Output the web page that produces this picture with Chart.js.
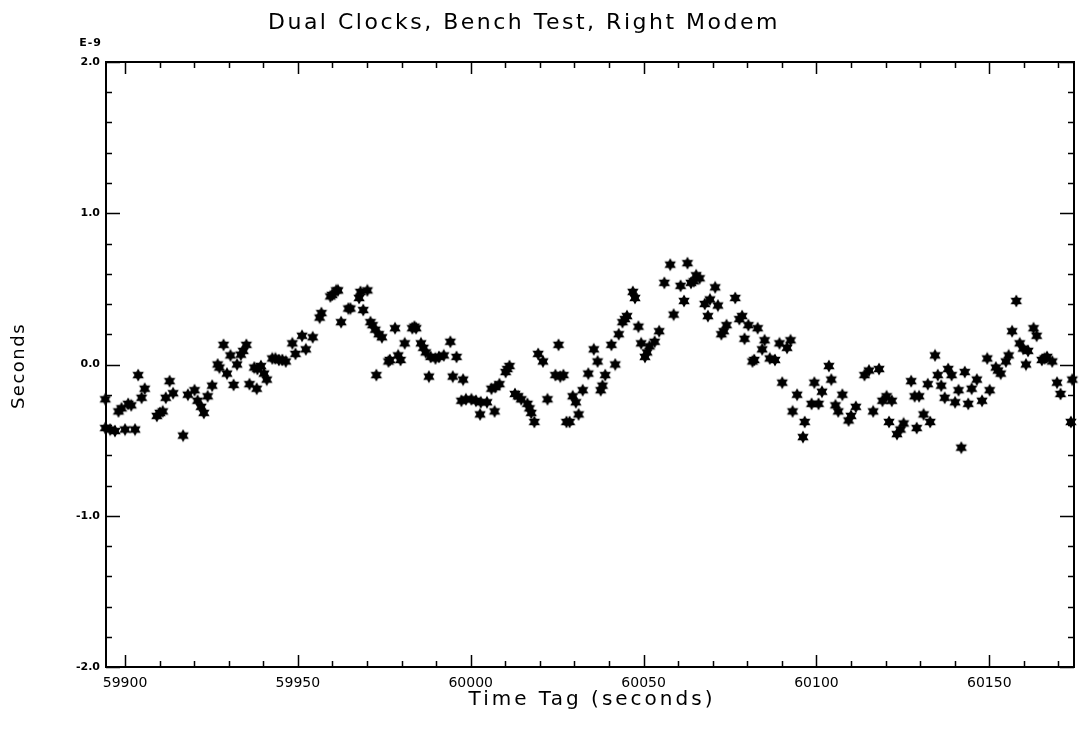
<!DOCTYPE html>
<html>
<head>
<meta charset="utf-8">
<script src="https://cdn.jsdelivr.net/npm/chart.js@4/dist/chart.umd.min.js"></script>
<style>
  body { margin: 0; background: #fff; }
  canvas { display: block; }
</style>
</head>
<body>
<canvas id="clockChart" width="1082" height="737"></canvas>
<script>
// time tags (seconds) and clock offsets (units of 1e-9 s)
timeTags = [
  59894.3,59894.3,59895.7,59897.1,59900.0,59902.9,59898.1,59899.0,59900.9,59901.8,
  59903.8,59905.7,59904.8,59909.2,59910.1,59910.9,59916.8,59912.9,59913.9,59911.8,
  59918.2,59920.1,59921.0,59922.0,59922.8,59923.9,59925.2,59926.8,59927.3,59928.5,
  59929.5,59930.5,59931.4,59932.4,59933.5,59934.2,59935.1,59936.0,59938.1,59937.4,
  59938.3,59939.3,59940.2,59941.0,59942.6,59943.5,59944.5,59945.5,59946.5,59948.4,
  59949.3,59951.2,59952.3,59954.3,59956.3,59956.8,59959.4,59959.9,59961.1,59961.6,
  59962.5,59964.6,59965.2,59967.7,59968.1,59970.1,59968.9,59971.0,59971.6,59972.4,
  59973.4,59974.3,59978.1,59972.7,59976.2,59976.6,59979.0,59979.7,59980.9,59983.1,
  59983.7,59984.2,59985.6,59986.3,59987.0,59988.4,59989.8,59990.8,59992.2,59994.1,
  59995.9,59987.9,59994.8,59997.8,59997.3,59998.6,60000.2,60001.5,60002.9,60004.7,
  60002.7,60006.9,60006.0,60007.1,60008.3,60010.1,60010.6,60011.2,60012.8,60013.7,
  60014.6,60016.4,60017.0,60017.5,60018.4,60019.5,60020.9,60022.2,60025.4,60024.5,
  60026.8,60025.9,60027.7,60029.5,60030.4,60028.6,60031.2,60032.4,60034.0,60035.6,
  60036.7,60037.6,60038.1,60038.9,60040.7,60041.8,60042.8,60043.9,60044.6,60045.2,
  60046.9,60047.5,60048.5,60049.3,60050.4,60051.0,60051.7,60053.2,60054.5,60056.0,
  60057.7,60058.7,60060.7,60061.7,60062.7,60063.7,60064.5,60065.2,60066.2,60067.7,
  60069.2,60070.7,60071.5,60068.6,60072.5,60073.2,60074.0,60076.5,60077.7,60078.5,
  60080.3,60079.2,60083.0,60085.0,60084.3,60081.5,60082.0,60086.5,60088.0,60089.3,
  60091.5,60092.5,60090.1,60094.4,60093.1,60096.6,60096.1,60099.4,60101.6,60098.6,
  60100.6,60103.6,60104.3,60105.5,60106.3,60107.5,60109.3,60110.0,60111.4,60113.9,
  60115.2,60116.4,60118.1,60119.1,60120.3,60121.8,60121.0,60123.3,60124.3,60125.2,
  60129.0,60127.4,60128.4,60129.7,60131.0,60132.9,60132.2,60134.3,60135.1,60136.1,
  60137.1,60138.1,60139.1,60140.1,60141.1,60141.9,60142.9,60143.9,60144.9,60146.4,
  60147.9,60149.4,60150.1,60151.9,60152.5,60153.3,60154.8,60155.6,60156.6,60157.8,
  60158.8,60159.8,60161.2,60160.6,60162.8,60163.7,60165.2,60166.0,60166.7,60168.2,
  60169.6,60170.6,60173.6,60174.0
]
offsets = [
  -0.23,-0.42,-0.43,-0.44,-0.43,-0.43,-0.31,-0.29,-0.26,-0.27,
  -0.07,-0.16,-0.22,-0.34,-0.32,-0.31,-0.47,-0.11,-0.19,-0.22,
  -0.20,-0.17,-0.24,-0.28,-0.32,-0.21,-0.14,0.00,-0.02,0.13,
  -0.06,0.06,-0.135,0.00,0.065,0.09,0.13,-0.13,-0.16,-0.02,
  -0.03,-0.01,-0.06,-0.10,0.04,0.04,0.03,0.03,0.02,0.14,
  0.07,0.19,0.10,0.18,0.31,0.34,0.45,0.46,0.49,0.49,
  0.28,0.37,0.37,0.44,0.48,0.49,0.36,0.28,0.26,0.23,
  0.20,0.18,0.24,-0.07,0.02,0.03,0.06,0.03,0.14,0.24,
  0.25,0.24,0.14,0.11,0.08,0.05,0.04,0.05,0.06,0.15,
  0.05,-0.08,-0.08,-0.10,-0.24,-0.23,-0.23,-0.24,-0.25,-0.25,
  -0.33,-0.31,-0.16,-0.15,-0.13,-0.05,-0.03,-0.01,-0.195,-0.21,
  -0.23,-0.26,-0.29,-0.32,-0.38,0.07,0.02,-0.23,0.13,-0.07,
  -0.07,-0.08,-0.38,-0.21,-0.25,-0.38,-0.33,-0.17,-0.06,0.10,
  0.02,-0.17,-0.14,-0.07,0.13,0.00,0.20,0.28,0.30,0.32,
  0.48,0.44,0.25,0.14,0.05,0.08,0.12,0.15,0.22,0.54,
  0.66,0.33,0.52,0.42,0.67,0.54,0.55,0.59,0.57,0.40,
  0.43,0.51,0.39,0.32,0.20,0.22,0.26,0.44,0.30,0.32,
  0.26,0.17,0.24,0.16,0.10,0.02,0.03,0.04,0.03,0.14,
  0.11,0.16,-0.12,-0.20,-0.31,-0.38,-0.48,-0.12,-0.18,-0.26,
  -0.26,-0.01,-0.10,-0.27,-0.31,-0.20,-0.37,-0.34,-0.28,-0.07,
  -0.04,-0.31,-0.03,-0.24,-0.21,-0.24,-0.38,-0.46,-0.43,-0.39,
  -0.42,-0.11,-0.21,-0.21,-0.33,-0.38,-0.13,0.06,-0.07,-0.14,
  -0.22,-0.03,-0.07,-0.25,-0.17,-0.55,-0.05,-0.26,-0.16,-0.10,
  -0.24,0.04,-0.17,-0.02,-0.04,-0.06,0.02,0.06,0.22,0.42,
  0.14,0.105,0.09,0.00,0.24,0.19,0.03,0.04,0.05,0.02,
  -0.12,-0.195,-0.38,-0.10
]
xMin = 59894.5
xMax = 60174.5
yMin = -2
yMax = 2

// filled six point star, like the plotter marker
makeStar = function(){
    var c = document.createElement('canvas')
    c.width = 14
    c.height = 14
    var g = c.getContext('2d')
    g.beginPath()
    for (var i = 0; i < 12; i++) {
        var r = i % 2 == 0 ? 6.6 : 3.7
        var a = -Math.PI / 2 + i * Math.PI / 6
        var px = 7 + r * Math.cos(a)
        var py = 7 + r * Math.sin(a)
        if (i == 0) g.moveTo(px, py); else g.lineTo(px, py)
    }
    g.closePath()
    g.fillStyle = '#000'
    g.fill()
    return c
}

points = timeTags.map(function(t, i){ return {x: t, y: offsets[i]} })

// frame, inward ticks and the texts of the old plotter layout
frameAndText = {
    id: 'frameAndText',
    afterDraw: function(chart){
        var ctx = chart.ctx
        var a = chart.chartArea
        var xs = chart.scales.x
        var ys = chart.scales.y
        ctx.save()
        ctx.strokeStyle = '#000'
        ctx.lineWidth = 2
        ctx.strokeRect(a.left, a.top, a.right - a.left, a.bottom - a.top)
        ctx.lineWidth = 1.5
        ctx.beginPath()
        for (var t = 59900; t <= xMax; t += 10) {
            var px = Math.round(xs.getPixelForValue(t)) + 0.5
            var len = t % 50 == 0 ? 12 : 6
            ctx.moveTo(px, a.bottom); ctx.lineTo(px, a.bottom - len)
            ctx.moveTo(px, a.top); ctx.lineTo(px, a.top + len)
        }
        for (var k = -10; k <= 10; k++) {
            var v = k / 5
            var py = Math.round(ys.getPixelForValue(v)) + 0.5
            var l2 = k % 5 == 0 ? 14 : 6
            ctx.moveTo(a.left, py); ctx.lineTo(a.left + l2, py)
            ctx.moveTo(a.right, py); ctx.lineTo(a.right - l2, py)
        }
        ctx.stroke()

        ctx.fillStyle = '#000'
        ctx.textBaseline = 'middle'
        ctx.textAlign = 'left'
        ctx.letterSpacing = '2.5px'
        ctx.font = '22px "DejaVu Sans"'
        ctx.fillText('Dual Clocks, Bench Test, Right Modem', 268, 23)
        ctx.textAlign = 'center'
        ctx.letterSpacing = '3px'
        ctx.font = '20px "DejaVu Sans"'
        ctx.fillText('Time Tag (seconds)', 592, 700)
        ctx.letterSpacing = '1.5px'
        ctx.translate(19, 366)
        ctx.rotate(-Math.PI / 2)
        ctx.font = '18px "DejaVu Sans"'
        ctx.fillText('Seconds', 0, 0)
        ctx.restore()

        ctx.save()
        ctx.fillStyle = '#000'
        ctx.font = 'bold 11px "DejaVu Sans"'
        ctx.letterSpacing = '1px'
        ctx.textAlign = 'right'
        ctx.textBaseline = 'middle'
        ctx.fillText('E-9', 102, 43)
        ctx.restore()
    }
}

window.onload = function(){
    ctx = document.getElementById('clockChart')
    config = {
        type: 'scatter',
        data: {
            datasets: [{
                label: 'Right Modem',
                data: points,
                pointStyle: makeStar(),
                pointRadius: 7,
                pointHoverRadius: 7,
                clip: 8
            }]
        },
        options: {
            responsive: false,
            animation: false,
            events: [],
            layout: { padding: { left: 0, right: 2, top: 62, bottom: 0 } },
            plugins: {
                legend: { display: false },
                tooltip: { enabled: false }
            },
            scales: {
                x: {
                    type: 'linear',
                    min: xMin,
                    max: xMax,
                    grid: { display: false, drawTicks: false },
                    border: { display: false },
                    afterBuildTicks: function(scale){
                        scale.ticks = scale.ticks.filter(function(t){ return t.value % 50 == 0 })
                    },
                    afterFit: function(scale){ scale.height = 70 },
                    ticks: {
                        stepSize: 50,
                        includeBounds: false,
                        autoSkip: false,
                        maxRotation: 0,
                        padding: 8,
                        color: '#000',
                        font: { family: 'DejaVu Sans', size: 14 },
                        callback: function(v){ return String(v) }
                    }
                },
                y: {
                    min: yMin,
                    max: yMax,
                    grid: { display: false, drawTicks: false },
                    border: { display: false },
                    afterFit: function(scale){ scale.width = 106 },
                    ticks: {
                        stepSize: 1,
                        padding: 6,
                        color: '#000',
                        font: { family: 'DejaVu Sans', size: 11, weight: 'bold' },
                        callback: function(v){ return v.toFixed(1) }
                    }
                }
            }
        },
        plugins: [frameAndText]
    }
    createNewChart = new Chart(ctx, config)
}
</script>
</body>
</html>
